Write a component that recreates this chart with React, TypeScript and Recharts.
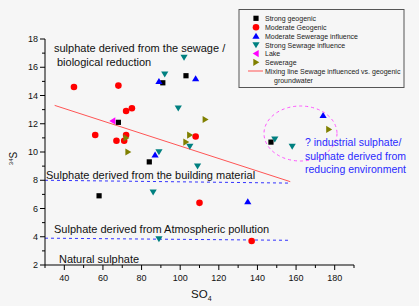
import { ScatterChart, Scatter, XAxis, YAxis, ReferenceLine } from 'recharts';

// values (SO4 vs d34S)
const strongGeogenic = [
  { x: 68, y: 12.1 }, { x: 91, y: 14.9 }, { x: 103, y: 15.4 },
  { x: 84, y: 9.3 }, { x: 58, y: 6.9 }, { x: 147, y: 10.7 },
];
const moderateGeogenic = [
  { x: 45, y: 14.6 }, { x: 68, y: 14.7 }, { x: 72, y: 12.9 }, { x: 75, y: 13.1 },
  { x: 56, y: 11.2 }, { x: 72, y: 11.2 }, { x: 67, y: 10.8 }, { x: 71, y: 10.8 },
  { x: 108, y: 11.1 }, { x: 110, y: 6.4 }, { x: 137, y: 3.7 },
];
const moderateSewerage = [
  { x: 89, y: 15.0 }, { x: 108, y: 15.2 }, { x: 87, y: 9.8 },
  { x: 135, y: 6.5 }, { x: 174, y: 12.6 },
];
const strongSewrage = [
  { x: 102, y: 16.7 }, { x: 92, y: 15.5 }, { x: 99, y: 13.1 }, { x: 105, y: 10.4 },
  { x: 89, y: 10.0 }, { x: 109, y: 9.0 }, { x: 86, y: 7.15 }, { x: 89, y: 3.85 },
  { x: 149, y: 10.9 }, { x: 158, y: 10.4 },
];
const lake = [{ x: 65, y: 12.2 }];
const sewerage = [
  { x: 113, y: 12.3 }, { x: 105, y: 11.2 }, { x: 103, y: 10.7 },
  { x: 72, y: 11.0 }, { x: 73, y: 10.0 }, { x: 177, y: 11.6 },
];

const mixingLine = [{ x: 35, y: 13.3 }, { x: 157, y: 7.9 }];
const buildingLine = [{ x: 30, y: 8.0 }, { x: 156, y: 7.8 }];
const atmosphericLine = [{ x: 30, y: 3.9 }, { x: 156, y: 3.75 }];

const xTicks = [30, 40, 50, 60, 70, 80, 90, 100, 110, 120, 130, 140, 150, 160, 170, 180, 190];
const yTicks = [2, 3, 4, 5, 6, 7, 8, 9, 10, 11, 12, 13, 14, 15, 16, 17, 18];

const BG = '#f6f6f6';
const FONT = '"Liberation Sans", Arial, sans-serif';

type Kind = 'square' | 'circle' | 'up' | 'down' | 'left' | 'right';

function marker(kind: Kind, cx: number, cy: number, color: string) {
  switch (kind) {
    case 'square':
      return <rect x={cx - 2.6} y={cy - 2.6} width={5.2} height={5.2} fill={color} />;
    case 'circle':
      return <circle cx={cx} cy={cy} r={3.3} fill={color} />;
    case 'up':
      return <polygon points={`${cx},${cy - 3.3} ${cx + 3.6},${cy + 2.7} ${cx - 3.6},${cy + 2.7}`} fill={color} />;
    case 'down':
      return <polygon points={`${cx},${cy + 3.3} ${cx + 3.6},${cy - 2.7} ${cx - 3.6},${cy - 2.7}`} fill={color} />;
    case 'left':
      return <polygon points={`${cx - 3.3},${cy} ${cx + 2.7},${cy - 3.6} ${cx + 2.7},${cy + 3.6}`} fill={color} />;
    case 'right':
      return <polygon points={`${cx + 3.3},${cy} ${cx - 2.7},${cy - 3.6} ${cx - 2.7},${cy + 3.6}`} fill={color} />;
  }
}

const series: { name: string; data: { x: number; y: number }[]; kind: Kind; color: string }[] = [
  { name: 'Strong geogenic', data: strongGeogenic, kind: 'square', color: '#000000' },
  { name: 'Moderate Geogenic', data: moderateGeogenic, kind: 'circle', color: '#ff0000' },
  { name: 'Moderate Sewerage influence', data: moderateSewerage, kind: 'up', color: '#0000ff' },
  { name: 'Strong Sewrage influence', data: strongSewrage, kind: 'down', color: '#008080' },
  { name: 'Lake', data: lake, kind: 'left', color: '#ff00ff' },
  { name: 'Sewerage', data: sewerage, kind: 'right', color: '#808000' },
];

function XTick(props: any) {
  const { x, y, payload } = props;
  const v = payload.value;
  const major = v % 20 === 0;
  return (
    <g>
      <line x1={x} y1={y} x2={x} y2={y + (major ? 5 : 3)} stroke="#000" />
      {major && (
        <text x={x} y={y + 13} textAnchor="middle" dominantBaseline="central" fontSize={9} fontFamily={FONT} fill="#111">
          {v}
        </text>
      )}
    </g>
  );
}

function YTick(props: any) {
  const { x, y, payload } = props;
  const v = payload.value;
  const major = v % 2 === 0;
  return (
    <g>
      <line x1={x - (major ? 5 : 3)} y1={y} x2={x} y2={y} stroke="#000" />
      {major && (
        <text x={x - 7} y={y} textAnchor="end" dominantBaseline="central" fontSize={9} fontFamily={FONT} fill="#111">
          {v}
        </text>
      )}
    </g>
  );
}

function Overlay() {
  const t = { fontFamily: FONT, fill: '#111', fontSize: 11 } as const;
  const blue = { fontFamily: FONT, fill: '#2a2aff', fontSize: 10.5 } as const;
  const lg = { fontFamily: FONT, fill: '#222', fontSize: 7 } as const;
  const rows = [18.3, 27.3, 36, 45, 53.6, 62.3];
  return (
    <svg width={419} height={306} style={{ position: 'absolute', left: 0, top: 0, pointerEvents: 'none' }}>
      <text x={54} y={48} dominantBaseline="central" {...t}>sulphate derived from the sewage /</text>
      <text x={57} y={62} dominantBaseline="central" {...t}>biological reduction</text>
      <text x={46} y={175} dominantBaseline="central" {...t}>Sulphate derived from the building material</text>
      <text x={54} y={229} dominantBaseline="central" {...t}>Sulphate derived from Atmospheric pollution</text>
      <text x={59} y={259} dominantBaseline="central" {...t}>Natural sulphate</text>
      <ellipse cx={300.5} cy={133.5} rx={36.5} ry={27.5} fill="none" stroke="#ff55ff" strokeDasharray="3 3" />
      <text x={305} y={142} dominantBaseline="central" {...blue}>? industrial sulphate/</text>
      <text x={305} y={156} dominantBaseline="central" {...blue}>sulphate derived from</text>
      <text x={305} y={169} dominantBaseline="central" {...blue}>reducing environment</text>

      <text transform="translate(17,158.5) rotate(-90)" textAnchor="middle" fontFamily={FONT} fontSize={10} fill="#111">
        <tspan fontSize={6} dy={-4}>34</tspan>
        <tspan dy={4}>S</tspan>
      </text>
      <text x={191} y={298} fontFamily={FONT} fontSize={11.5} fill="#111">
        SO<tspan fontSize={7} dy={3}>4</tspan>
      </text>

      <rect x={239} y={9.5} width={165} height={78} fill={BG} stroke="#555" strokeWidth={1} />
      {series.map((s, i) => (
        <g key={s.name}>
          {marker(s.kind, 256, rows[i], s.color)}
          <text x={265} y={rows[i]} dominantBaseline="central" {...lg}>{s.name}</text>
        </g>
      ))}
      <line x1={248} y1={71} x2={263} y2={71} stroke="#ff5555" />
      <text x={265} y={71} dominantBaseline="central" {...lg}>Mixing line Sewage influenced vs. geogenic</text>
      <text x={274} y={80} dominantBaseline="central" {...lg}>groundwater</text>
    </svg>
  );
}

export default function App() {
  return (
    <div style={{ position: 'absolute', left: 0, top: 0, width: 419, height: 306, background: BG }}>
      <ScatterChart width={419} height={306} margin={{ top: 39, right: 65, bottom: 0, left: 0 }}>
        <XAxis
          type="number"
          dataKey="x"
          domain={[30, 190]}
          ticks={xTicks}
          interval={0}
          height={41}
          tickSize={0}
          tickMargin={0}
          tick={<XTick />}
          axisLine={{ stroke: '#000' }}
          tickLine={false}
        />
        <YAxis
          type="number"
          dataKey="y"
          domain={[2, 18]}
          ticks={yTicks}
          interval={0}
          width={45}
          tickSize={0}
          tickMargin={0}
          tick={<YTick />}
          axisLine={{ stroke: '#000' }}
          tickLine={false}
        />
        <ReferenceLine segment={mixingLine} stroke="#ff5555" strokeWidth={1} />
        <ReferenceLine segment={buildingLine} stroke="#3333ff" strokeDasharray="3 3" />
        <ReferenceLine segment={atmosphericLine} stroke="#3333ff" strokeDasharray="3 3" />
        {series.map((s) => (
          <Scatter
            key={s.name}
            name={s.name}
            data={s.data}
            isAnimationActive={false}
            shape={(p: any) => marker(s.kind, p.cx, p.cy, s.color)}
          />
        ))}
      </ScatterChart>
      <Overlay />
    </div>
  );
}
